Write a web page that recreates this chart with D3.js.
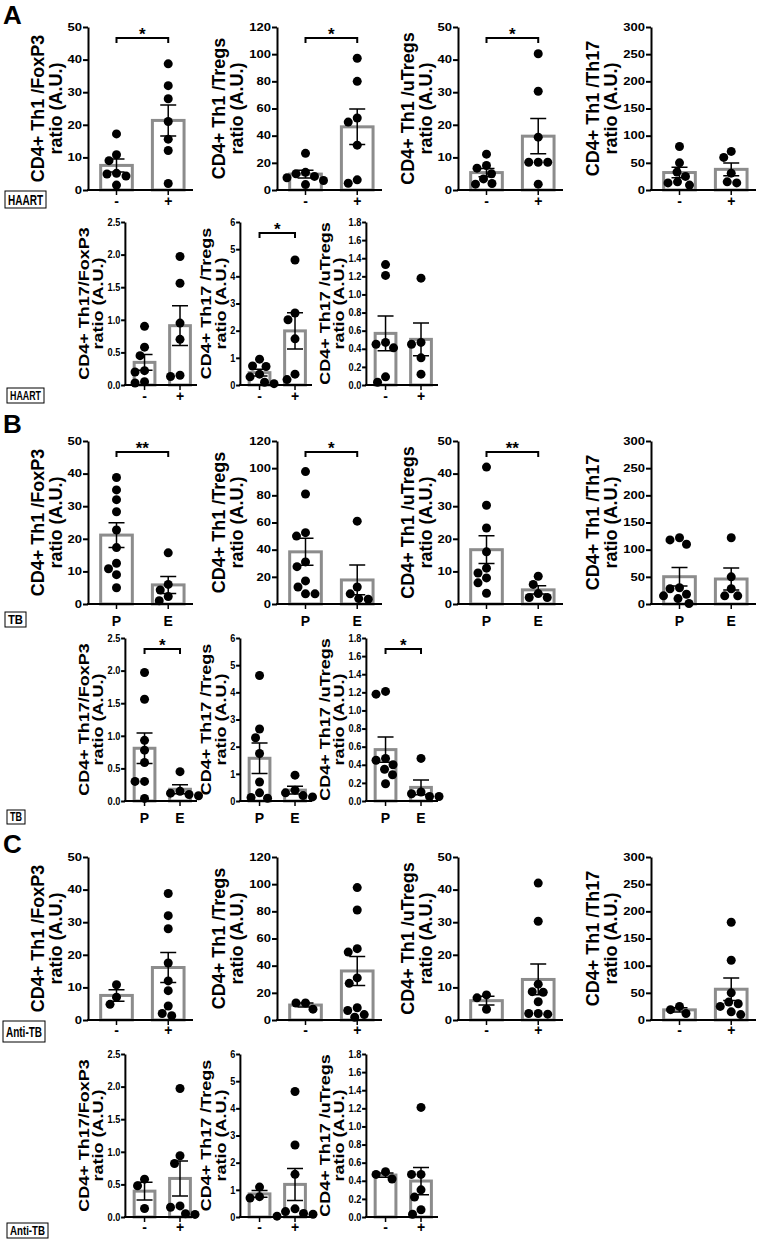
<!DOCTYPE html>
<html>
<head>
<meta charset="utf-8">
<script src="https://cdn.jsdelivr.net/npm/d3@7"></script>
<style>
  body { margin: 0; background: #fff; }
  text { font-family: "Liberation Sans", Arial, sans-serif; font-weight: bold; }
</style>
</head>
<body>
<svg id="fig" width="757" height="1240"></svg>
<script>
// groups on the x axis
const haartGroups = ["-", "+"];
const tbGroups = ["P", "E"];
const antiTbGroups = ["-", "+"];

// y axis titles and ticks, same order in every section
const yTitles = ["CD4+ Th1 /FoxP3", "CD4+ Th1 /Tregs", "CD4+ Th1 /uTregs", "CD4+ Th1 /Th17",
  "CD4+ Th17/FoxP3", "CD4+ Th17 /Tregs", "CD4+ Th17 /uTregs"];
const yTicks = [
  [0, 10, 20, 30, 40, 50],
  [0, 20, 40, 60, 80, 100, 120],
  [0, 10, 20, 30, 40, 50],
  [0, 50, 100, 150, 200, 250, 300],
  [0, 0.5, 1, 1.5, 2, 2.5],
  [0, 1, 2, 3, 4, 5, 6],
  [0, 0.2, 0.4, 0.6, 0.8, 1, 1.2, 1.4, 1.6, 1.8]
];

// A: HAART - / +
const haartTh1FoxP3 = [[17.2, 10.8, 9.0, 5.1, 4.9, 4.3, 1.5], [38.7, 32.0, 28.0, 21.0, 15.6, 12.1, 2.0]];
const haartTh1Tregs = [[27, 13, 12, 10, 9, 7, 4], [97, 80, 53, 50, 33, 7.5, 5]];
const haartTh1uTregs = [[11, 7.5, 6.7, 5, 3.4, 2, 1.8], [41.8, 30.3, 16.2, 8.5, 8.5, 8.5, 1.8]];
const haartTh1Th17 = [[80, 50, 33, 25, 15, 13, 9], [71, 60, 31, 15, 13]];
const haartTh17FoxP3 = [[0.9, 0.58, 0.45, 0.22, 0.2, 0.05, 0.03], [1.97, 1.56, 0.95, 0.7, 0.15, 0.13]];
const haartTh17Tregs = [[0.95, 0.7, 0.68, 0.4, 0.3, 0.1, 0.05], [4.6, 2.65, 2.4, 1.7, 0.4, 0.2]];
const haartTh17uTregs = [[1.33, 1.21, 0.47, 0.45, 0.41, 0.09, 0.03], [1.18, 0.47, 0.45, 0.3, 0.12]];
const haartSig = ["*", "*", "*", "", "", "*", ""];

// B: TB P / E
const tbTh1FoxP3 = [[38.8, 35, 32, 28.3, 22.7, 17.3, 12.5, 10.8, 9, 5], [15.7, 6, 4.3, 2.3, 1]];
const tbTh1Tregs = [[97.5, 81, 52.5, 50, 31, 27.5, 17, 12.5, 7.5, 7.5], [61, 12.5, 7.5, 4, 3.5]];
const tbTh1uTregs = [[42, 30.3, 23.3, 16, 11, 9.5, 8, 6.5, 3.3], [8.5, 6, 3.2, 2, 2]];
const tbTh1Th17 = [[122, 118, 110, 30, 28, 18, 15, 10, 1], [122, 50, 28, 15, 15]];
const tbTh17FoxP3 = [[1.97, 1.56, 0.93, 0.78, 0.59, 0.3, 0.3, 0.04], [0.45, 0.15, 0.12, 0.1, 0.08]];
const tbTh17Tregs = [[4.62, 2.65, 2.33, 1.75, 0.7, 0.3, 0.13, 0.1], [0.95, 0.4, 0.3, 0.2, 0.15]];
const tbTh17uTregs = [[1.21, 1.18, 0.47, 0.45, 0.4, 0.35, 0.29, 0.19], [0.47, 0.1, 0.08, 0.05, 0.05]];
const tbSig = ["**", "*", "**", "", "*", "", "*"];

// C: Anti-TB - / +
const antiTbTh1FoxP3 = [[10.8, 7, 4.8], [38.8, 32, 28, 17.5, 12, 9, 4.3, 2, 1.3]];
const antiTbTh1Tregs = [[12.5, 12.5, 8], [97.5, 81, 52.5, 50, 31, 27, 9, 7, 4, 2]];
const antiTbTh1uTregs = [[7.7, 6.8, 3.3], [42, 30.3, 11, 8.7, 8.5, 5.6, 2, 2, 1.8]];
const antiTbTh1Th17 = [[25, 19, 12], [180, 110, 50, 33, 30, 25, 15, 10]];
const antiTbTh17FoxP3 = [[0.58, 0.48, 0.13], [1.97, 0.94, 0.82, 0.17, 0.15, 0.05, 0.04]];
const antiTbTh17Tregs = [[1.1, 0.75, 0.7], [4.62, 2.65, 1.57, 0.3, 0.2, 0.13, 0.1, 0.03]];
const antiTbTh17uTregs = [[0.5, 0.47, 0.42], [1.21, 0.47, 0.47, 0.3, 0.22, 0.08, 0.03]];
const antiTbSig = ["", "", "", "", "", "", ""];

const svg = d3.select("#fig");
const panelH = 163;
const row1X = [88, 277, 458, 651];
const row2X = [125, 240, 366];
const dotR = 4.5;

const sections = [
  { letter: "A", letterY: 24, groups: haartGroups, sig: haartSig, tops: [27, 222], xDy: 16,
    panels: [haartTh1FoxP3, haartTh1Tregs, haartTh1uTregs, haartTh1Th17, haartTh17FoxP3, haartTh17Tregs, haartTh17uTregs] },
  { letter: "B", letterY: 433, groups: tbGroups, sig: tbSig, tops: [441, 638], xDy: 22,
    panels: [tbTh1FoxP3, tbTh1Tregs, tbTh1uTregs, tbTh1Th17, tbTh17FoxP3, tbTh17Tregs, tbTh17uTregs] },
  { letter: "C", letterY: 853, groups: antiTbGroups, sig: antiTbSig, tops: [857, 1054], xDy: 15,
    panels: [antiTbTh1FoxP3, antiTbTh1Tregs, antiTbTh1uTregs, antiTbTh1Th17, antiTbTh17FoxP3, antiTbTh17Tregs, antiTbTh17uTregs] }
];

const boxes = [
  { t: "HAART", x: 5, y: 191, w: 41, h: 17, fs: 14 },
  { t: "HAART", x: 7, y: 388, w: 37, h: 15, fs: 13 },
  { t: "TB", x: 5, y: 612, w: 21, h: 15, fs: 13 },
  { t: "TB", x: 7, y: 810, w: 18, h: 14, fs: 12 },
  { t: "Anti-TB", x: 3, y: 1021, w: 42, h: 21, fs: 15 },
  { t: "Anti-TB", x: 7, y: 1223, w: 41, h: 15, fs: 13 }
];

function drawPanel(x0, y0, w, ts, tickK, i, vals, groups, sig, xDy) {
  const g = svg.append("g").attr("transform", `translate(${x0},${y0})`);
  const ticks = yTicks[i];
  const y = d3.scaleLinear().domain([0, ticks[ticks.length - 1]]).range([panelH, 0]);
  const x = d3.scaleBand().domain(groups).range([0, w])
    .paddingInner(0.33).paddingOuter(0.18).align(0.6);

  const stats = vals.map((v, k) => ({
    g: groups[k], v,
    mean: d3.mean(v),
    sem: d3.deviation(v) / Math.sqrt(v.length)
  }));

  // bars
  g.selectAll("rect.bar").data(stats).join("rect")
    .attr("class", "bar")
    .attr("x", d => x(d.g) + 1.5)
    .attr("width", x.bandwidth() - 3)
    .attr("y", d => y(d.mean))
    .attr("height", d => panelH - y(d.mean))
    .attr("fill", "#fff")
    .attr("stroke", "#8c8c8c")
    .attr("stroke-width", 3);

  // dots, spread so they don't overlap
  stats.forEach(d => {
    const cx0 = x(d.g) + x.bandwidth() / 2;
    const placed = [];
    d3.sort(d.v, (a, b) => b - a).forEach(v => {
      const cy = y(v);
      let dx = 0;
      search:
      for (let s = 0; s <= 40; s += 0.5) {
        for (const sign of [-1, 1]) {
          const c = s * sign;
          if (placed.every(p => Math.hypot(p[0] - c, p[1] - cy) >= 2 * dotR + 0.5)) { dx = c; break search; }
        }
      }
      placed.push([dx, cy]);
      g.append("circle").attr("cx", cx0 + dx).attr("cy", cy).attr("r", dotR).attr("fill", "#000");
    });
  });

  // error bars (mean +/- SEM)
  stats.forEach(d => {
    const cx = x(d.g) + x.bandwidth() / 2;
    const yt = y(d.mean + d.sem), yb = y(Math.max(0, d.mean - d.sem));
    g.append("path")
      .attr("d", `M${cx},${yt}V${yb}M${cx - 8},${yt}H${cx + 8}M${cx - 8},${yb}H${cx + 8}`)
      .attr("stroke", "#000").attr("stroke-width", 1.5).attr("fill", "none");
  });

  // y axis
  const fmt = (ticks[ticks.length - 1] < 3 && ticks[1] < 1) ? d3.format(".1f") : d3.format("d");
  const ax = g.append("g").attr("transform", `scale(${ts},1)`)
    .call(d3.axisLeft(y).tickValues(ticks).tickFormat(fmt).tickSize(5).tickPadding(1).tickSizeOuter(0))
    .attr("font-size", 10);
  ax.select(".domain").attr("stroke-width", 2 / ts);
  ax.selectAll(".tick line").attr("stroke-width", 2);
  ax.selectAll(".tick text").attr("fill", "#000").each(function () {
    const len = this.getComputedTextLength();
    d3.select(this).attr("textLength", len * tickK / ts).attr("lengthAdjust", "spacingAndGlyphs");
  });

  // x axis
  g.append("line").attr("x1", -1).attr("x2", w).attr("y1", panelH).attr("y2", panelH)
    .attr("stroke", "#000").attr("stroke-width", 2);
  groups.forEach(c => {
    const cx = x(c) + x.bandwidth() / 2;
    g.append("line").attr("x1", cx).attr("x2", cx).attr("y1", panelH).attr("y2", panelH + 5)
      .attr("stroke", "#000").attr("stroke-width", 1.5);
    g.append("text").attr("x", cx).attr("y", panelH + xDy).attr("text-anchor", "middle")
      .attr("font-size", 14).text(c);
  });

  // y title, two lines
  const bb = ax.node().getBBox();
  const lg = g.append("g").attr("transform", `scale(${ts},1)`);
  const base2 = bb.x - 6, base1 = base2 - 18;
  [[yTitles[i], base1], ["ratio (A.U.)", base2]].forEach(([t, bx]) => {
    lg.append("text")
      .attr("transform", `translate(${bx},${panelH / 2}) rotate(-90)`)
      .attr("text-anchor", "middle").attr("font-size", 18).text(t);
  });

  // significance bracket
  if (sig) {
    const c1 = x(groups[0]) + x.bandwidth() / 2, c2 = x(groups[1]) + x.bandwidth() / 2;
    const by = 11;
    g.append("path").attr("d", `M${c1},${by + 5}V${by}H${c2}V${by + 5}`)
      .attr("stroke", "#000").attr("stroke-width", 2).attr("fill", "none");
    g.append("text").attr("x", (c1 + c2) / 2).attr("y", by + 2).attr("text-anchor", "middle")
      .attr("font-size", 17).text(sig);
  }
}

sections.forEach(sec => {
  svg.append("text").attr("x", 3).attr("y", sec.letterY).attr("font-size", 26).text(sec.letter);
  sec.panels.forEach((vals, i) => {
    if (i < 4) drawPanel(row1X[i], sec.tops[0], 105, 1, 1.3, i, vals, sec.groups, sec.sig[i], sec.xDy);
    else drawPanel(row2X[i - 4], sec.tops[1], 72, 0.78, 0.92, i, vals, sec.groups, sec.sig[i], sec.xDy);
  });
});

boxes.forEach(b => {
  svg.append("rect").attr("x", b.x).attr("y", b.y).attr("width", b.w).attr("height", b.h)
    .attr("fill", "#fff").attr("stroke", "#000").attr("stroke-width", 1);
  svg.append("text").attr("x", b.x + b.w / 2).attr("y", b.y + b.h / 2 + b.fs * 0.36)
    .attr("text-anchor", "middle").attr("font-size", b.fs)
    .attr("textLength", b.w - 6).attr("lengthAdjust", "spacingAndGlyphs").text(b.t);
});
</script>
</body>
</html>
